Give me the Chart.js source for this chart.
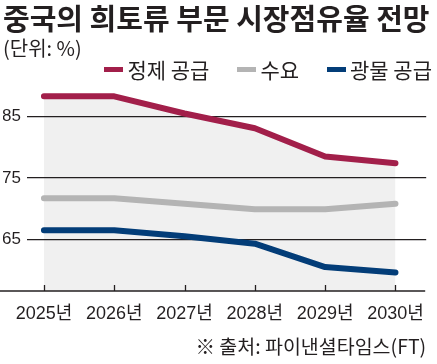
<!DOCTYPE html>
<html><head><meta charset="utf-8">
<script src="https://cdn.jsdelivr.net/npm/chart.js@4"></script>
<style>
html,body{margin:0;padding:0;background:#fff}
#wrap{position:relative;width:437px;height:364px}
#legend{position:absolute;right:5px;top:58px;height:22px;display:flex;align-items:center;
  font-family:"Noto Sans CJK KR",sans-serif;font-size:21px;line-height:22px;color:#231f20;white-space:nowrap}
#legend .item{display:flex;align-items:center;margin-left:28px}
#legend .item:first-child{margin-left:0}
#legend .sw{display:inline-block;width:19px;height:5px;margin-right:4px}
</style>
</head><body><div id="wrap"><canvas id="c"></canvas><div id="legend"></div></div>
<script>
const years = [2025, 2026, 2027, 2028, 2029, 2030];
const yearSuffix = '년';
const refinedSupply = [88.3, 88.3, 85.5, 83.1, 78.5, 77.4];
const demand = [71.7, 71.7, 70.8, 69.9, 69.9, 70.8];
const miningSupply = [66.5, 66.5, 65.5, 64.3, 60.5, 59.6];
const seriesNames = ['정제 공급', '수요', '광물 공급'];
const seriesColors = ['#a21f4a', '#b4b4b4', '#033d78'];
const yTicks = [65, 75, 85];
const titleText = '중국의 희토류 부문 시장점유율 전망';
const unitText = '(단위: %)';
const sourceText = '※ 출처: 파이낸셜타임스(FT)';

const INK = '#231f20';
const SHADE = '#f0f0f0';
const NARROW = '"Liberation Sans Narrow", "Liberation Sans", "Noto Sans CJK KR", sans-serif';
const KR = '"Noto Sans CJK KR", sans-serif';

const pts = arr => arr.map((v, i) => ({x: years[i], y: v}));

// HTML legend built from the series names / colours
const lg = document.getElementById('legend');
seriesNames.forEach((n, i) => {
  const it = document.createElement('span'); it.className = 'item';
  const sw = document.createElement('span'); sw.className = 'sw'; sw.style.background = seriesColors[i];
  it.appendChild(sw); it.appendChild(document.createTextNode(n)); lg.appendChild(it);
});

const axisTicks = {
  id: 'axisTicks',
  afterDatasetsDraw(chart) {
    const {ctx, chartArea, scales} = chart;
    const xs = scales.x;
    ctx.save();
    ctx.strokeStyle = INK;
    ctx.lineWidth = 1.3;
    ctx.beginPath();
    ctx.moveTo(0, chartArea.bottom);
    ctx.lineTo(chartArea.right - 1, chartArea.bottom);
    ctx.stroke();
    xs.ticks.forEach((t, i) => {
      const px = Math.round(xs.getPixelForTick(i)) + 0.5;
      ctx.beginPath();
      ctx.moveTo(px, chartArea.bottom - 6);
      ctx.lineTo(px, chartArea.bottom);
      ctx.stroke();
    });
    ctx.restore();
  }
};

new Chart(document.getElementById('c'), {
  type: 'line',
  data: {
    datasets: [
      {label: seriesNames[0], data: pts(refinedSupply), borderColor: seriesColors[0], backgroundColor: SHADE, fill: 'start', order: 3},
      {label: seriesNames[1], data: pts(demand), borderColor: seriesColors[1], backgroundColor: seriesColors[1], fill: false, order: 2},
      {label: seriesNames[2], data: pts(miningSupply), borderColor: seriesColors[2], backgroundColor: seriesColors[2], fill: false, order: 1}
    ]
  },
  options: {
    responsive: true,
    maintainAspectRatio: false,
    animation: false,
    layout: {padding: {left: 3, right: 3, top: 0, bottom: 0}},
    elements: {
      line: {borderWidth: 6, tension: 0, borderCapStyle: 'round', borderJoinStyle: 'round'},
      point: {radius: 0, hoverRadius: 0}
    },
    scales: {
      x: {
        type: 'linear',
        min: 2024.759, max: 2030.437,
        afterBuildTicks: s => { s.ticks = years.map(v => ({value: v})); },
        afterFit: s => { s.height = 73; },
        grid: {display: false, drawTicks: false},
        border: {display: false},
        ticks: {
          autoSkip: false, maxRotation: 0, padding: 13,
          color: INK, font: {family: NARROW, size: 18, lineHeight: '20px'},
          callback: v => v + yearSuffix
        },
        title: {display: true, text: sourceText, align: 'end', color: INK,
                font: {family: KR, size: 19.5, lineHeight: '20px'}, padding: {top: 0, bottom: 7}}
      },
      y: {
        min: 56.60, max: 90.31,
        afterBuildTicks: s => { s.ticks = yTicks.map(v => ({value: v})); },
        afterFit: s => { s.width = 24; },
        grid: {color: INK, lineWidth: 1.3, borderDash: [1.3, 2.2], drawTicks: false},
        border: {display: false},
        ticks: {padding: 6, color: INK, font: {family: NARROW, size: 17}}
      }
    },
    plugins: {
      filler: {drawTime: 'beforeDraw'},
      tooltip: {enabled: false},
      legend: {display: false},
      title: {display: true, text: titleText, align: 'start', color: INK,
              font: {family: KR, size: 29, weight: 'bold', lineHeight: '29px'}, padding: {top: 4, bottom: 5}},
      subtitle: {display: true, text: unitText, align: 'start', color: INK,
                 font: {family: KR, size: 20, lineHeight: '20px'}, padding: {top: 0, bottom: 26}}
    }
  },
  plugins: [axisTicks]
});
</script></body></html>
